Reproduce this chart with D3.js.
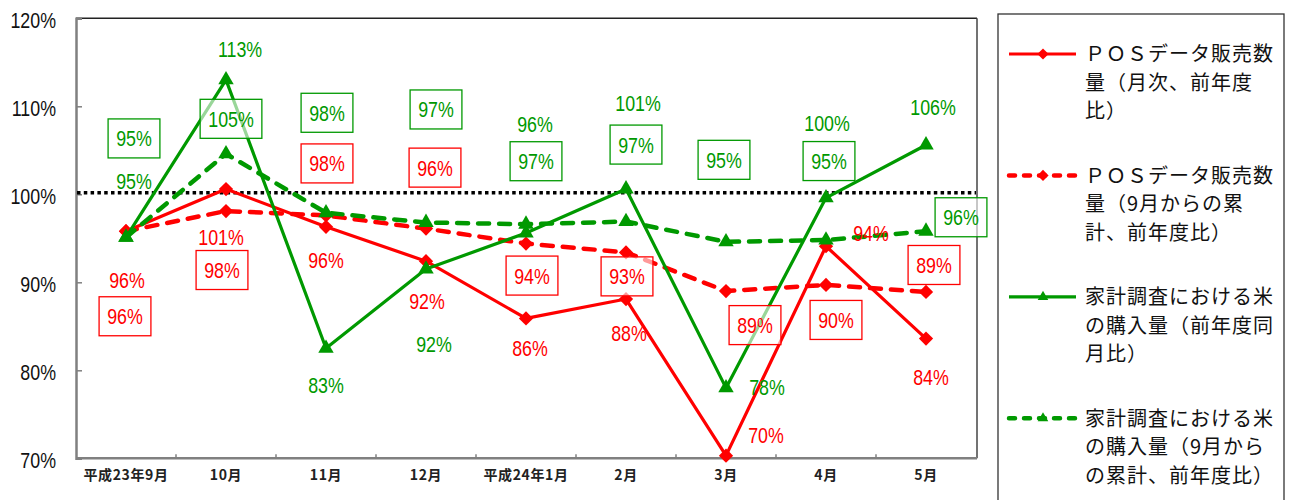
<!DOCTYPE html>
<html><head><meta charset="utf-8">
<script src="https://cdn.jsdelivr.net/npm/d3@7"></script>
<style>
html,body{margin:0;padding:0;background:#fff;}
svg{display:block;}
.num{font-family:"Liberation Sans",Arial,sans-serif;}
.jp{font-family:"Noto Sans CJK JP",sans-serif;}
</style>
</head><body>
<svg id="chart" width="1301" height="500"></svg>
<script>
// ---- data ----
const categories = ["平成23年9月","10月","11月","12月","平成24年1月","2月","3月","4月","5月"];
const posMonthly = [95.8,100.6,96.3,92.4,85.9,88.1,70.3,94.1,83.6];
const posCumulative = [95.8,98.1,97.6,96.1,94.4,93.4,89.0,89.7,88.9];
const hhMonthly = [95.1,113.0,82.5,91.5,95.6,100.6,78.0,99.6,105.6];
const hhCumulative = [95.1,104.6,97.9,96.8,96.6,96.9,94.6,94.8,95.8];
const posMonthlyLabels = ["96%","101%","96%","92%","86%","88%","70%","94%","84%"];
const posCumulativeLabels = ["96%","98%","98%","96%","94%","93%","89%","90%","89%"];
const hhMonthlyLabels = ["95%","113%","83%","92%","96%","101%","78%","100%","106%"];
const hhCumulativeLabels = ["95%","105%","98%","97%","97%","97%","95%","95%","96%"];
const yTicks = [70,80,90,100,110,120];
const referenceLine = 100;
const legendLines = [
  ["ＰＯＳデータ販売数","量（月次、前年度","比）"],
  ["ＰＯＳデータ販売数","量（9月からの累","計、前年度比）"],
  ["家計調査における米","の購入量（前年度同","月比）"],
  ["家計調査における米","の購入量（9月から","の累計、前年度比）"]
];

// ---- layout (label offsets from point, px) ----
const off1 = [[1,49],[-5,48],[0,33],[1,40],[4,30],[3,34],[40,-21],[45,-13],[5,38]];
const off2 = [[-1,85],[-4,59],[1,-52],[9,-61],[6,32],[1,24],[29,34],[10,35],[8,-27]];
const off3 = [[8,-56],[14,-31],[0,37],[8,75],[9,-109],[12,-86],[41,-1],[1,-75],[7,-38]];
const off4 = [[8,-99],[5,-35],[1,-100],[10,-113],[10,-63],[10,-77],[-2,-82],[3,-79],[35,-14]];

const RED = "#ff0000", GREEN = "#009900";
const NARROW = 0.81;
const svg = d3.select("#chart");
const L = 76, R = 976, T = 18.3, B = 458.3;

const x = d3.scaleBand().domain(categories).range([L, R]).padding(0);
const cx = c => x(c) + x.bandwidth()/2;
const y = d3.scaleLinear().domain([70,120]).range([B, T]);

// frame top/right
svg.append("line").attr("x1",L).attr("x2",R+1).attr("y1",T).attr("y2",T).attr("stroke","#222").attr("stroke-width",1.5);
svg.append("line").attr("x1",R+1).attr("x2",R+1).attr("y1",T).attr("y2",B).attr("stroke","#444").attr("stroke-width",1.5);

// y axis
const yAxis = svg.append("g").attr("transform",`translate(${L},0)`)
  .call(d3.axisLeft(y).tickValues(yTicks).tickSize(-6).tickFormat(d=>d+"%"));
yAxis.select(".domain").attr("stroke","#808080").attr("stroke-width",2.5);
yAxis.selectAll(".tick line").attr("stroke","#808080").attr("stroke-width",1.5);
yAxis.selectAll(".tick text").attr("class","num").attr("font-size",22).attr("fill","#111")
  .attr("x",0).attr("dy","0.37em").attr("transform",`translate(-20,1) scale(${NARROW},1)`);

// x axis
const xAxis = svg.append("g").attr("transform",`translate(0,${B})`)
  .call(d3.axisBottom(x).tickSize(0).tickPadding(12));
xAxis.select(".domain").attr("stroke","#808080").attr("stroke-width",2.5).attr("d",`M${L},0H${R+1}`);
xAxis.selectAll(".tick text").attr("class","jp").attr("font-size",14).attr("font-weight","bold")
  .attr("letter-spacing","0.6px").attr("fill","#222");
svg.append("g").selectAll("line").data(categories.slice(0,-1)).join("line")
  .attr("x1",c=>x(c)+x.bandwidth()).attr("x2",c=>x(c)+x.bandwidth())
  .attr("y1",B).attr("y2",B-4).attr("stroke","#808080").attr("stroke-width",1.5);

// 100% dotted line
svg.append("line").attr("x1",L+1).attr("x2",R).attr("y1",y(referenceLine)-1.5).attr("y2",y(referenceLine)-1.5)
  .attr("stroke","#000").attr("stroke-width",3.5).attr("stroke-dasharray","3.5,3.3");

const diamond = d3.symbol().type(d3.symbolDiamond2).size(130);
const triangle = d3.symbol().type(d3.symbolTriangle2).size(170);

function series(vals, color, dashed, marker){
  const g = svg.append("g");
  const line = d3.line().x((d,i)=>cx(categories[i])).y(d=>y(d));
  g.append("path").attr("d",line(vals)).attr("fill","none").attr("stroke",color)
    .attr("stroke-width",dashed?4.5:3.2).attr("stroke-linejoin","round")
    .attr("stroke-linecap",dashed?"round":"butt")
    .attr("stroke-dasharray",dashed?"11,10":null);
  g.selectAll("path.m").data(vals).join("path").attr("class","m")
    .attr("d",marker)
    .attr("transform",(d,i)=>`translate(${cx(categories[i])},${y(d)})`)
    .attr("fill",color);
}
series(posMonthly, RED, false, diamond);
series(posCumulative, RED, true, diamond);
series(hhMonthly, GREEN, false, triangle);
series(hhCumulative, GREEN, true, triangle);

function labels(vals, texts, offs, color, boxed){
  const g = svg.append("g");
  vals.forEach((v,i)=>{
    const px = cx(categories[i]) + offs[i][0], py = y(v) + offs[i][1];
    const gg = g.append("g");
    const rect = boxed ? gg.append("rect") : null;
    const t = gg.append("text").attr("class","num").attr("x",0).attr("y",0).attr("dy","0.36em")
      .attr("transform",`translate(${px},${py}) scale(${NARROW},1)`)
      .attr("text-anchor","middle").attr("font-size",22).attr("fill",color).text(texts[i]);
    if(boxed){
      const bb = t.node().getBBox();
      const w = bb.width*NARROW + 16, h = 39;
      rect.attr("x",px-w/2).attr("y",py-h/2).attr("width",w).attr("height",h)
        .attr("fill","rgba(255,255,255,0.6)").attr("stroke",color).attr("stroke-width",1.3);
    }
  });
}
labels(posMonthly, posMonthlyLabels, off1, RED, false);
labels(posCumulative, posCumulativeLabels, off2, RED, true);
labels(hhMonthly, hhMonthlyLabels, off3, GREEN, false);
labels(hhCumulative, hhCumulativeLabels, off4, GREEN, true);

// legend
svg.append("rect").attr("x",998).attr("y",14).attr("width",286).attr("height",500)
  .attr("fill","#fff").attr("stroke","#333").attr("stroke-width",1.3);
const legendSpec = [
  {color:RED, dashed:false, type:d3.symbolDiamond2},
  {color:RED, dashed:true, type:d3.symbolDiamond2},
  {color:GREEN, dashed:false, type:d3.symbolTriangle2},
  {color:GREEN, dashed:true, type:d3.symbolTriangle2}
];
const legendY = d3.scaleLinear().domain([0,3]).range([54,418.3]);
legendSpec.forEach((s,i)=>{
  const ly = legendY(i);
  const g = svg.append("g");
  g.append("line").attr("x1",1009).attr("x2",1076).attr("y1",ly).attr("y2",ly)
    .attr("stroke",s.color).attr("stroke-width",s.dashed?4.5:3.2)
    .attr("stroke-linecap",s.dashed?"round":"butt")
    .attr("stroke-dasharray",s.dashed?"6,9":null);
  g.append("path").attr("d",d3.symbol().type(s.type).size(80)())
    .attr("transform",`translate(1043,${ly})`).attr("fill",s.color);
  legendLines[i].forEach((txt,j)=>{
    g.append("text").attr("class","jp").attr("x",1085).attr("y",ly + j*28.5).attr("dy","0.36em")
      .attr("font-size",20).attr("letter-spacing","1px").attr("fill","#111").text(txt);
  });
});
</script>
</body></html>
